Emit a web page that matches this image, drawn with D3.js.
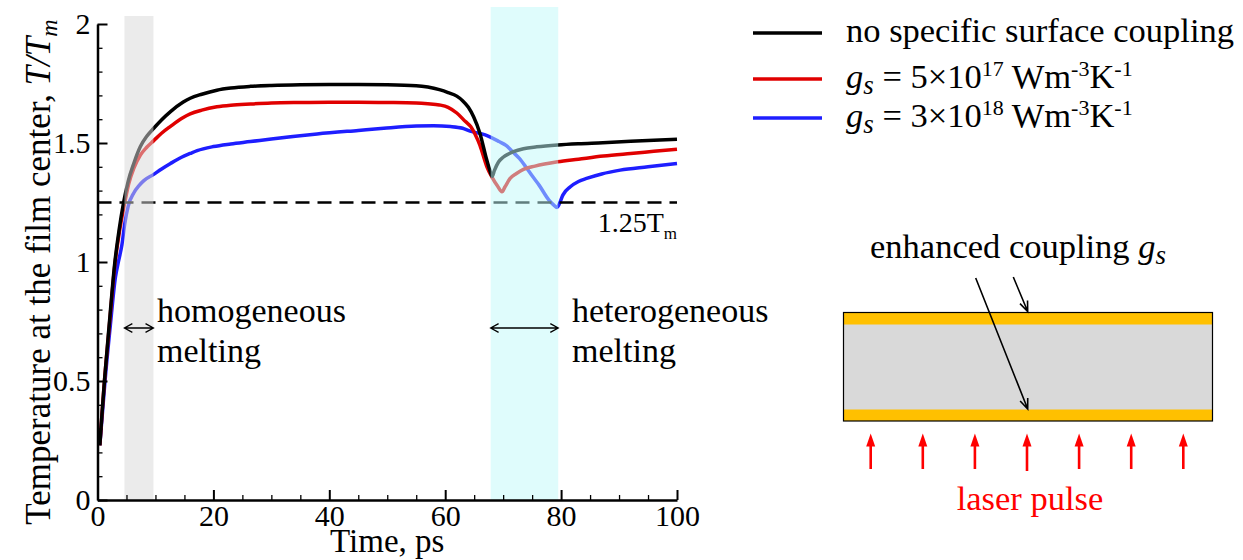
<!DOCTYPE html>
<html><head><meta charset="utf-8">
<script src="https://cdn.jsdelivr.net/npm/d3@7"></script>
<style>
body{margin:0;background:#fff}
svg{display:block}
text{font-family:"Liberation Serif","Times New Roman",serif;fill:#000}
</style>
</head><body>
<svg id="c" width="1243" height="560"></svg>
<script>
// ---------- data ----------
const xTicks = [0, 20, 40, 60, 80, 100];
const yTicks = [0, 0.5, 1, 1.5, 2];
const meltLevel = 1.25;
const homogeneousBand = [4.65, 9.65];
const heterogeneousBand = [67.85, 79.5];

const blackTime = [0.4,0.8,1.2,2.0,3.0,3.7,4.5,5.3,6.26,7.4,8.5,9.7,11,12.6,14.8,16,18,20.6,23,26.4,30,35,40,45,50,55,57,59,60.5,62,63,64,64.9,66.0,67.1,67.7,68.1,68.5,69.2,70,71,71.8,73.5,75.8,79.4,83,87.2,92,96,100];
const blackTemp = [0.23,0.37,0.5,0.73,1.0,1.13,1.25,1.34,1.414,1.485,1.528,1.562,1.596,1.632,1.672,1.688,1.705,1.722,1.731,1.738,1.742,1.745,1.746,1.746,1.745,1.741,1.735,1.724,1.712,1.697,1.678,1.65,1.61,1.54,1.435,1.385,1.36,1.385,1.42,1.44,1.455,1.464,1.476,1.484,1.492,1.497,1.501,1.507,1.512,1.516];

const redTime = [0.4,0.8,1.2,2.0,3.0,3.8,4.7,5.4,6.26,7.4,8.5,9.7,11,12.6,14.8,16,18,20.6,23,26.4,30,35,40,45,50,55,57,59,60.5,62,63.5,64.4,65.2,66,66.4,67.2,68.05,69,69.8,70.3,71.2,72.3,73.5,75.5,79.4,83,87.3,92,96,100];
const redTemp = [0.23,0.37,0.5,0.72,0.99,1.13,1.25,1.33,1.393,1.449,1.482,1.51,1.54,1.57,1.607,1.622,1.638,1.652,1.659,1.664,1.668,1.67,1.671,1.671,1.67,1.668,1.665,1.66,1.65,1.626,1.59,1.569,1.535,1.49,1.46,1.40,1.358,1.32,1.295,1.315,1.351,1.372,1.389,1.403,1.421,1.432,1.445,1.456,1.465,1.474];

const blueTime = [0.4,0.8,1.3,2.2,3.1,3.6,4.2,4.7,5.3,6.26,7.2,8,9.7,11,12.6,14.5,16,17.2,20,23,26.4,30,37.9,45,49.4,55,58,60.9,63,64.3,66.9,69.3,70.5,71.6,72.8,73.9,75,76.2,77.9,78.7,79.3,79.7,80.3,81.6,83,84.4,87,90.2,95,100];
const blueTemp = [0.23,0.35,0.5,0.73,0.937,1.0,1.07,1.16,1.235,1.29,1.322,1.342,1.368,1.39,1.414,1.44,1.456,1.468,1.485,1.496,1.506,1.517,1.538,1.553,1.562,1.571,1.572,1.569,1.562,1.55,1.534,1.506,1.49,1.464,1.435,1.40,1.362,1.323,1.26,1.24,1.229,1.245,1.281,1.316,1.338,1.351,1.37,1.386,1.40,1.414];

const seriesColors = ["#000000", "#e00000", "#1e1eff"];

// ---------- setup ----------
const svg = d3.select("#c");
const x = d3.scaleLinear().domain([0, 100]).range([97.5, 677]);
const y = d3.scaleLinear().domain([0, 2]).range([500, 24]);

const zip = (a, b) => a.map((t, i) => [t, b[i]]);
const series = [
  {data: zip(blueTime, blueTemp), color: seriesColors[2]},
  {data: zip(redTime, redTemp), color: seriesColors[1]},
  {data: zip(blackTime, blackTemp), color: seriesColors[0]}
];

const line = d3.line().x(d => x(d[0])).y(d => y(d[1])).curve(d3.curveMonotoneX);

const plot = svg.append("g");
plot.selectAll("path.s").data(series).join("path")
  .attr("class", "s")
  .attr("d", d => line(d.data))
  .attr("fill", "none")
  .attr("stroke", d => d.color)
  .attr("stroke-width", 3.5)
  .attr("stroke-linejoin", "round");

// dashed 1.25 Tm
plot.append("line")
  .attr("x1", x(0)).attr("x2", x(100))
  .attr("y1", y(meltLevel)).attr("y2", y(meltLevel))
  .attr("stroke", "#000").attr("stroke-width", 2.5)
  .attr("stroke-dasharray", "14,8");

// translucent bands on top
plot.append("rect")
  .attr("x", x(homogeneousBand[0])).attr("width", x(homogeneousBand[1]) - x(homogeneousBand[0]))
  .attr("y", 16).attr("height", y(0) - 16)
  .attr("fill", "rgb(216,216,216)").attr("fill-opacity", 0.51);
plot.append("rect")
  .attr("x", x(heterogeneousBand[0])).attr("width", x(heterogeneousBand[1]) - x(heterogeneousBand[0]))
  .attr("y", 7).attr("height", y(0) - 7)
  .attr("fill", "rgb(192,249,249)").attr("fill-opacity", 0.5);

// ---------- axes ----------
const fmt = d3.format("~g");
const xAxis = svg.append("g").attr("transform", `translate(0,${y(0)})`)
  .call(d3.axisBottom(x).tickValues(xTicks).tickSize(-10).tickSizeOuter(0).tickPadding(5).tickFormat(fmt));
const xMinor = svg.append("g").attr("transform", `translate(0,${y(0)})`)
  .call(d3.axisBottom(x).tickValues(d3.range(0, 101, 5).filter(v => v % 20)).tickSize(-5).tickFormat(""));
const yAxis = svg.append("g").attr("transform", `translate(${x(0)},0)`)
  .call(d3.axisLeft(y).tickValues(yTicks).tickSize(-10).tickSizeOuter(0).tickPadding(7).tickFormat(fmt));
const yMinor = svg.append("g").attr("transform", `translate(${x(0)},0)`)
  .call(d3.axisLeft(y).tickValues(d3.range(0, 21).map(v => v / 10).filter(v => Math.round(v * 10) % 5)).tickSize(-5).tickFormat(""));
xMinor.select(".domain").remove();
yMinor.select(".domain").remove();
[xAxis, yAxis].forEach(g => {
  g.select(".domain").attr("stroke-width", 2.5).attr("stroke", "#000");
  g.selectAll(".tick line").attr("stroke-width", 2).attr("stroke", "#000");
  g.selectAll("text").attr("font-family", "Liberation Serif").attr("font-size", 30).attr("fill", "#000");
});
[xMinor, yMinor].forEach(g => g.selectAll(".tick line").attr("stroke-width", 1.3).attr("stroke", "#000"));

// axis titles
svg.append("text").attr("x", x(50)).attr("y", 552).attr("text-anchor", "middle")
  .attr("font-size", 33).text("Time, ps");
const yt = svg.append("text").attr("transform", "translate(50,272) rotate(-90)")
  .attr("text-anchor", "middle").attr("font-size", 35);
yt.append("tspan").text("Temperature at the film center, ");
yt.append("tspan").attr("font-style", "italic").text("T/T");
yt.append("tspan").attr("font-style", "italic").attr("font-size", 24).attr("dy", 7).text("m");

// 1.25Tm label
const ml = svg.append("text").attr("x", x(100)).attr("y", 232).attr("text-anchor", "end").attr("font-size", 28);
ml.append("tspan").text("1.25T");
ml.append("tspan").attr("font-size", 17).attr("dy", 7).text("m");

// ---------- annotations ----------
function headPath(x1, y1, x2, y2, len, ang) {
  const a = Math.atan2(y2 - y1, x2 - x1);
  const p1 = [x2 - len * Math.cos(a - ang), y2 - len * Math.sin(a - ang)];
  const p2 = [x2 - len * Math.cos(a + ang), y2 - len * Math.sin(a + ang)];
  return `M${p1[0]},${p1[1]}L${x2},${y2}L${p2[0]},${p2[1]}`;
}
function dblArrow(xa, xb, yy) {
  svg.append("path")
    .attr("d", `M${xa},${yy}L${xb},${yy}` + headPath(xb, yy, xa, yy, 9, 0.5) + headPath(xa, yy, xb, yy, 9, 0.5))
    .attr("fill", "none").attr("stroke", "#000").attr("stroke-width", 1.3);
}
dblArrow(x(homogeneousBand[0]), x(homogeneousBand[1]), 328);
dblArrow(x(heterogeneousBand[0]), x(heterogeneousBand[1]), 328);

svg.append("text").attr("x", 157).attr("y", 322).attr("font-size", 34).text("homogeneous");
svg.append("text").attr("x", 157).attr("y", 362).attr("font-size", 34).text("melting");
svg.append("text").attr("x", 572).attr("y", 322).attr("font-size", 34).text("heterogeneous");
svg.append("text").attr("x", 572).attr("y", 362).attr("font-size", 34).text("melting");

// ---------- legend ----------
const legendLabels = ["no specific surface coupling", ["5", "17"], ["3", "18"]];
const legendOrder = [0, 1, 2];
const legY = [33, 79, 118];
const legBase = [42, 88, 127];
legendOrder.forEach(i => {
  svg.append("line").attr("x1", 753).attr("x2", 822).attr("y1", legY[i]).attr("y2", legY[i])
    .attr("stroke", seriesColors[i]).attr("stroke-width", 3.5);
  const t = svg.append("text").attr("x", 846).attr("y", legBase[i]).attr("font-size", 34.5);
  if (i === 0) { t.text(legendLabels[0]); return; }
  const [m, e] = legendLabels[i];
  t.append("tspan").attr("font-style", "italic").text("g");
  t.append("tspan").attr("font-style", "italic").attr("font-size", 27).attr("dy", 6).text("s");
  t.append("tspan").attr("dy", -6).text(` = ${m}×10`);
  t.append("tspan").attr("font-size", 22).attr("dy", -12).text(e);
  t.append("tspan").attr("dy", 12).text(" Wm");
  t.append("tspan").attr("font-size", 22).attr("dy", -12).text("-3");
  t.append("tspan").attr("dy", 12).text("K");
  t.append("tspan").attr("font-size", 22).attr("dy", -12).text("-1");
});

// ---------- film diagram ----------
const film = {x0: 843.5, x1: 1212.5, y0: 312.5, y1: 421, strip: 12};
svg.append("rect").attr("x", film.x0).attr("y", film.y0).attr("width", film.x1 - film.x0).attr("height", film.y1 - film.y0)
  .attr("fill", "#d9d9d9");
svg.append("rect").attr("x", film.x0).attr("y", film.y0).attr("width", film.x1 - film.x0).attr("height", film.strip)
  .attr("fill", "#ffc000");
svg.append("rect").attr("x", film.x0).attr("y", film.y1 - film.strip + 0.5).attr("width", film.x1 - film.x0).attr("height", film.strip - 0.5)
  .attr("fill", "#ffc000");
svg.append("rect").attr("x", film.x0).attr("y", film.y0).attr("width", film.x1 - film.x0).attr("height", film.y1 - film.y0)
  .attr("fill", "none").attr("stroke", "#000").attr("stroke-width", 1.2);

// laser arrows
const laserX = d3.scaleLinear().domain([0, 6]).range([870.7, 1183.3]);
d3.range(7).forEach(i => {
  const ax = laserX(i), tip = 433.5, bot = i === 3 ? 471 : 469;
  svg.append("line").attr("x1", ax).attr("x2", ax).attr("y1", bot).attr("y2", tip + 10)
    .attr("stroke", "#ff0000").attr("stroke-width", 2.6);
  svg.append("path").attr("d", `M${ax - 4.5},${tip + 13}L${ax},${tip}L${ax + 4.5},${tip + 13}Z`).attr("fill", "#ff0000");
});
svg.append("text").attr("x", 1030).attr("y", 510).attr("text-anchor", "middle").attr("font-size", 34.5)
  .style("fill", "#ff0000").text("laser pulse");

// coupling label + arrows
const ec = svg.append("text").attr("x", 870).attr("y", 258).attr("font-size", 34.5);
ec.append("tspan").text("enhanced coupling ");
ec.append("tspan").attr("font-style", "italic").text("g");
ec.append("tspan").attr("font-style", "italic").attr("font-size", 27).attr("dy", 6).text("s");
[[1013.3, 277, 1027.7, 311.5], [975.7, 278, 1027.7, 409]].forEach(([x1, y1, x2, y2]) => {
  svg.append("path").attr("d", `M${x1},${y1}L${x2},${y2}` + headPath(x1, y1, x2, y2, 11, 0.38))
    .attr("fill", "none").attr("stroke", "#000").attr("stroke-width", 1.6);
});
</script>
</body></html>
